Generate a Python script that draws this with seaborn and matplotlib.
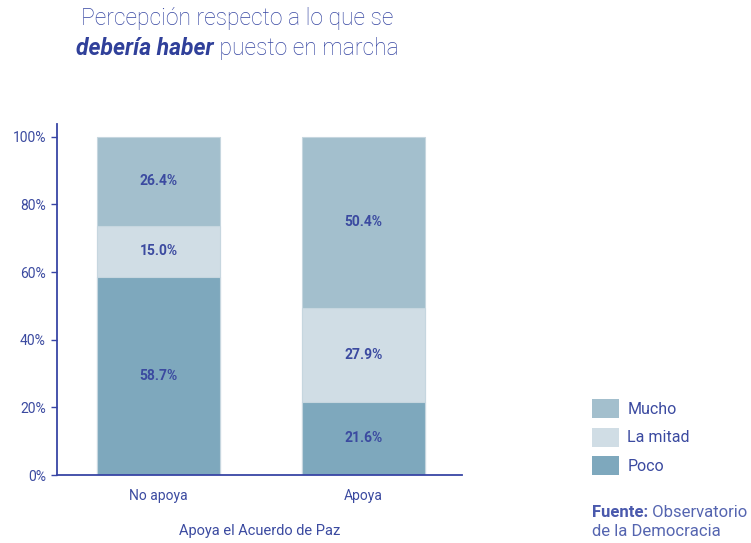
import matplotlib
matplotlib.use("Agg")
import matplotlib.pyplot as plt
from matplotlib.patches import Patch
import seaborn as sns
import pandas as pd

# data
grupos = ["No apoya", "Apoya"]
niveles = ["Mucho", "La mitad", "Poco"]   # top -> bottom
poco = [58.7, 21.6]
la_mitad = [15.0, 27.9]
mucho = [26.4, 50.4]
y_ticks = [0, 20, 40, 60, 80, 100]

colores = {"Mucho": "#a3bfcd", "La mitad": "#d0dde5", "Poco": "#7ea8bd"}
txt = "#3b4aa0"

sns.set_theme(style="white")
plt.rcParams["font.family"] = ["Roboto", "DejaVu Sans"]

df = pd.DataFrame({"grupo": grupos, "Poco": poco, "La mitad": la_mitad, "Mucho": mucho})
df["base_mitad"] = df["Poco"]
df["base_mucho"] = df["Poco"] + df["La mitad"]
df["top_Poco"] = df["Poco"]
df["top_La mitad"] = df["base_mucho"]
df["top_Mucho"] = df["base_mucho"] + df["Mucho"]

fig = plt.figure(figsize=(7.51, 5.43), dpi=100)
ax = fig.add_axes([0.0759, 0.1252, 0.539, 0.6464])

# stacked bars: draw cumulative totals, tallest first
for nivel in niveles:
    sns.barplot(data=df, x="grupo", y="top_" + nivel, order=grupos, ax=ax,
                color=colores[nivel], width=0.6, edgecolor="#c6d6df",
                linewidth=0.8, saturation=1)

# labels centred in each segment
for i, row in df.iterrows():
    bases = {"Poco": 0, "La mitad": row["base_mitad"], "Mucho": row["base_mucho"]}
    for nivel in niveles:
        ax.text(i, bases[nivel] + row[nivel] / 2, "{:.1f}%".format(row[nivel]),
                ha="center", va="center", fontsize=10, fontweight="bold", color=txt)

ax.set_xlim(-0.495, 1.48)
ax.set_ylim(0, 103.8)
ax.set_yticks(y_ticks)
ax.set_yticklabels(["{}%".format(t) for t in y_ticks])
ax.set_ylabel("")
ax.set_xlabel("Apoya el Acuerdo de Paz", color=txt, fontsize=10.5, labelpad=15)
ax.tick_params(axis="y", left=True, length=4, width=1, color="#3845a5",
               labelcolor=txt, labelsize=10, pad=4)
ax.tick_params(axis="x", bottom=False, labelcolor=txt, labelsize=10, pad=4)
sns.despine(ax=ax, top=True, right=True)
for s in ["left", "bottom"]:
    ax.spines[s].set_color("#3845a5")
    ax.spines[s].set_linewidth(1.3)

# title
fig.text(0.316, 0.966, "Percepción respecto a lo que se", ha="center", va="center",
         fontsize=16.5, fontweight="light", color="#3646a2")
r = fig.canvas.get_renderer()
t1 = fig.text(0, 0.911, "debería haber", ha="left", va="center", fontsize=16.5,
              fontweight="bold", fontstyle="italic", color="#30409a")
t2 = fig.text(0, 0.911, " puesto en marcha", ha="left", va="center", fontsize=16.5,
              fontweight="light", color="#3646a2")
w1 = t1.get_window_extent(r).width / fig.bbox.width
w2 = t2.get_window_extent(r).width / fig.bbox.width
x0 = 0.316 - (w1 + w2) / 2
t1.set_x(x0)
t2.set_x(x0 + w1)

# legend
handles = [Patch(facecolor=colores[n], edgecolor="none", label=n) for n in niveles]
leg = fig.legend(handles=handles, loc="upper left", bbox_to_anchor=(0.7886, 0.265),
                 frameon=False, fontsize=11.5, handlelength=1.7, handleheight=1.45,
                 labelspacing=0.6, handletextpad=0.5, borderpad=0, borderaxespad=0)
for t in leg.get_texts():
    t.set_color(txt)

# source
f1 = fig.text(0.788, 0.057, "Fuente:", ha="left", va="center", fontsize=12,
              fontweight="bold", color="#4a59ad")
wf = f1.get_window_extent(r).width / fig.bbox.width
fig.text(0.788 + wf, 0.057, " Observatorio", ha="left", va="center", fontsize=12,
         color="#5565b0")
fig.text(0.788, 0.022, "de la Democracia", ha="left", va="center", fontsize=12,
         color="#5565b0")

plt.savefig("out.png", dpi=100)
